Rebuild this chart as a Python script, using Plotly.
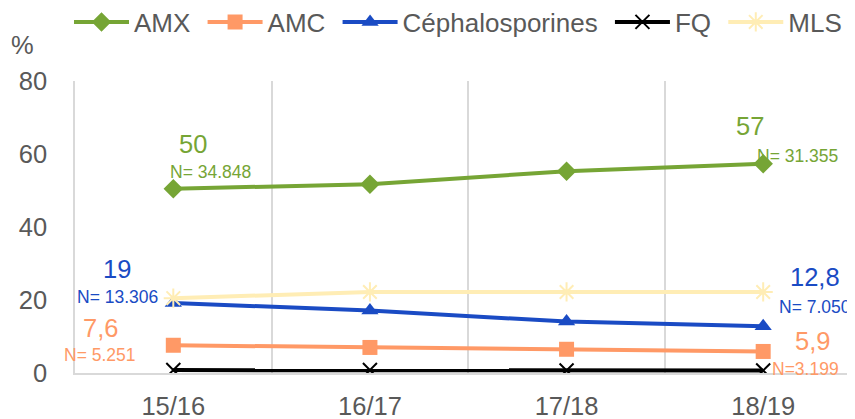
import plotly.graph_objects as go

seasons = ["15/16", "16/17", "17/18", "18/19"]
amx = [50.5, 51.7, 55.3, 57.3]
amc = [7.6, 7.0, 6.5, 5.9]
ceph = [19.2, 17.1, 14.1, 12.8]
fq = [0.8, 0.8, 0.7, 0.7]
mls = [20.5, 22.2, 22.2, 22.2]

series = [
    ("AMX", amx, "#76A535", "diamond", 15),
    ("AMC", amc, "#FF9966", "square", 15),
    ("Céphalosporines", ceph, "#1A4BC4", "triangle-up", 15),
    ("FQ", fq, "#000000", "x-thin-open", 14),
    ("MLS", mls, "#FFEDB5", "asterisk-open", 16),
]

FONT = "Liberation Sans, Arial, sans-serif"
GRAY = "#595959"
BIG = 25.5
SMALL = 17.5

# the page body adds an 8 px offset, so the figure is laid out 8 px up/left
W, H = 847, 411

fig = go.Figure()
for name, vals, color, sym, size in series:
    mk = dict(symbol=sym, size=size, color=color)
    if sym.endswith("open"):
        mk["line"] = dict(color=color, width=2)
    fig.add_trace(go.Scatter(
        x=seasons, y=vals, name=name + "\u00a0", mode="lines+markers",
        line=dict(color=color, width=4), marker=mk,
    ))

# value labels: (series values, index, text, color, size, xshift, yshift)
labels = [
    (amx, 0, "50", "#76A535", BIG, 20, 45),
    (amx, 0, "N= 34.848", "#76A535", SMALL, 37, 17),
    (amx, 3, "57", "#76A535", BIG, -13, 38),
    (amx, 3, "N= 31.355", "#76A535", SMALL, 34, 8),
    (ceph, 0, "19", "#1A4BC4", BIG, -56, 34),
    (ceph, 0, "N= 13.306", "#1A4BC4", SMALL, -56, 6),
    (amc, 0, "7,6", "#FF9966", BIG, -73, 17),
    (amc, 0, "N= 5.251", "#FF9966", SMALL, -73, -10),
    (ceph, 3, "12,8", "#1A4BC4", BIG, 52, 49),
    (ceph, 3, "N= 7.050", "#1A4BC4", SMALL, 52, 19),
    (amc, 3, "5,9", "#FF9966", BIG, 49, 10),
    (amc, 3, "N=3.199", "#FF9966", SMALL, 42, -18),
]
for vals, i, txt, col, sz, dx, dy in labels:
    fig.add_annotation(
        x=seasons[i], y=vals[i], xref="x", yref="y", text=txt,
        showarrow=False, xshift=dx, yshift=dy,
        font=dict(family=FONT, size=sz, color=col),
    )

fig.add_annotation(
    xref="paper", yref="paper", x=(22 - 75) / 780, y=1 + (81 - 45) / 292,
    xanchor="center", yanchor="middle",
    text="%", showarrow=False,
    font=dict(family=FONT, size=BIG, color=GRAY),
)

fig.update_layout(
    width=W, height=H,
    margin=dict(l=67, r=0, t=73, b=46),
    plot_bgcolor="white", paper_bgcolor="white",
    font=dict(family=FONT, size=BIG, color=GRAY),
    showlegend=True,
    legend=dict(
        orientation="h", x=61 / W, y=1 - 14 / H,
        xref="container", yref="container",
        xanchor="left", yanchor="middle",
        font=dict(family=FONT, size=26, color=GRAY),
        itemwidth=55, tracegroupgap=0, bgcolor="rgba(0,0,0,0)",
    ),
    xaxis=dict(
        type="category", range=[-0.5, 3.467], tickson="boundaries",
        showgrid=True, gridcolor="#D9D9D9", gridwidth=1.5,
        showline=True, linecolor="#D9D9D9", linewidth=1.5,
        ticks="", ticklabelstandoff=10, automargin=False,
        tickfont=dict(family=FONT, size=BIG, color=GRAY),
    ),
    yaxis=dict(
        range=[0, 80], tickvals=[0, 20, 40, 60, 80],
        showgrid=False, zeroline=False,
        showline=True, linecolor="#D9D9D9", linewidth=1.5,
        ticks="", ticklabelstandoff=21, automargin=False,
        tickfont=dict(family=FONT, size=BIG, color=GRAY),
    ),
)
fig.write_html("out.html")
